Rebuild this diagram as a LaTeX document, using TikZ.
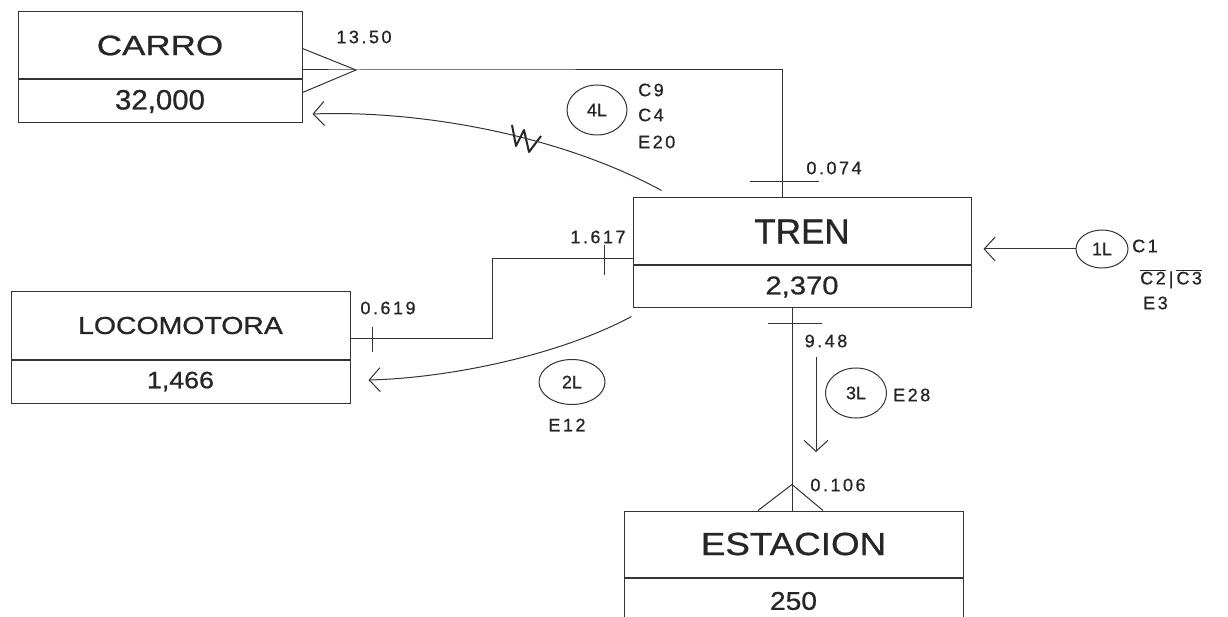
\documentclass[tikz,border=0pt]{standalone}
\usepackage{fontspec}
\setmainfont{Liberation Sans}[FakeBold=0.8]
\usetikzlibrary{arrows.meta,calc,shapes.geometric}
\newcommand{\lsp}[2]{{\addfontfeature{LetterSpace=#1}#2}}
\newcommand{\strt}[2]{{\addfontfeature{FakeStretch=#1}#2}}
\begin{document}
\begin{tikzpicture}[x=1pt,y=-1pt,
  ln/.style={line width=1pt, draw=black!80},
  boxtop/.style={ln, rectangle, minimum height=67pt, inner sep=0pt, text=black!85},
  boxbot/.style={ln, rectangle, inner sep=0pt, anchor=north, text=black!85},
  lbl/.style={font=\fontsize{18}{20}\selectfont, inner sep=0pt, text=black!85},
  rel/.style={ln, ellipse, inner sep=0pt, font=\fontsize{18}{20}\selectfont, text=black!85},
  arr/.style={ln, -{Straight Barb[length=11pt,width=24pt,line width=1pt]}},
]
\useasboundingbox (0,0) rectangle (1228,617);
\fill[white] (0,0) rectangle (1228,617);
\clip (0,0) rectangle (1228,617);

% entity boxes
\node[boxtop, minimum width=284pt, font=\fontsize{28}{30}\selectfont] (carro) at (160,45.5) {\strt{1.25}{CARRO}};
\node[boxbot, minimum width=284pt, minimum height=43pt, font=\fontsize{28}{30}\selectfont] (carrov) at (carro.south) {\strt{1.05}{32,000}};

\node[boxtop, minimum width=338pt, font=\fontsize{35}{38}\selectfont] (tren) at (802,231.5) {TREN};
\node[boxbot, minimum width=338pt, minimum height=42pt, font=\fontsize{25.6}{28}\selectfont] (trenv) at (tren.south) {\strt{1.14}{2,370}};

\node[boxtop, minimum width=339pt, font=\fontsize{24.5}{27}\selectfont] (loco) at (180.5,325.5) {\strt{1.16}{LOCOMOTORA}};
\node[boxbot, minimum width=339pt, minimum height=43pt, font=\fontsize{23.7}{26}\selectfont] (locov) at (loco.south) {\strt{1.13}{1,466}};

\node[boxtop, minimum width=339pt, minimum height=66pt, font=\fontsize{32}{35}\selectfont] (est) at (793.5,544) {\strt{1.15}{ESTACION}};
\node[boxbot, minimum width=339pt, minimum height=46pt, font=\fontsize{25.6}{28}\selectfont] (estv) at (est.south) {\strt{1.1}{250}};

% CARRO -- TREN
\coordinate (cf1) at (356,70);
\coordinate (k1) at (782,70);
\draw[ln] ($(carro.south east)+(0,-31)$) -- (cf1) -- ($(carrov.north east)+(0,13)$);
\draw[ln] (carro.east |- cf1) -- (cf1) -- (k1) -- (k1 |- tren.north);
\draw[ln] ($(k1 |- tren.north)+(-32,-16)$) -- ++(69,0);
\node[lbl] (l1350) at (364,37) {\lsp{14}{13.50}};
\node[lbl] (l0074) at (834,168) {\lsp{14}{0.074}};

% 4L
\draw[arr] ($(tren.north west)+(29,-7)$) .. controls (560,135) and (420,110) .. ($(carrov.east)+(10,12.5)$);
\draw[line width=2pt, black!85, line join=round] (512,125) -- (516,146) -- (524,130) -- (529,152) -- (541,136);
\node[rel, minimum width=60pt, minimum height=50pt] (r4) at (597,110) {4L};
\node[lbl, anchor=west] (c9) at (638,90) {\lsp{14}{C9}};
\node[lbl, anchor=west] (c4) at (638,115) {\lsp{14}{C4}};
\node[lbl, anchor=west] (e20) at (638,142) {\lsp{14}{E20}};

% LOCOMOTORA -- TREN
\coordinate (b1) at (492,339);
\coordinate (b2) at (492,259);
\draw[ln] (loco.east |- b1) -- (b1) -- (b2) -- (tren.west |- b2);
\draw[ln] ($(loco.east |- b1)+(22,-12)$) -- ++(0,25);
\draw[ln] ($(tren.west |- b2)+(-28,-14)$) -- ++(0,30);
\node[lbl] (l0619) at (388,308) {\lsp{14}{0.619}};
\node[lbl] (l1617) at (598,237) {\lsp{14}{1.617}};

% 2L
\draw[arr] ($(trenv.south west)+(-1,8)$) .. controls (560,355) and (450,378) .. ($(locov.east)+(18,-1.5)$);
\node[rel, minimum width=66pt, minimum height=45pt] (r2) at (572,382) {2L};
\node[lbl] (e12) at (567,425) {\lsp{14}{E12}};

% 1L
\node[rel, minimum width=52pt, minimum height=38pt] (r1) at (1102,249) {1L};
\draw[arr] (r1.west) -- ($(r1.west -| tren.east)+(12,0)$);
\node[lbl, anchor=west] (c1) at (1132,246) {\lsp{14}{C1}};
\node[lbl, anchor=west] (c23) at (1140,279) {$\overline{\mbox{\lsp{14}{C2}}}$\,|\,$\overline{\mbox{\lsp{14}{C3}}}$};
\node[lbl, anchor=west] (e3) at (1143,303) {\lsp{14}{E3}};

% TREN -- ESTACION
\coordinate (v1) at ($(trenv.south)+(-10,0)$);
\coordinate (v2) at (v1 |- est.north);
\coordinate (cf2) at ($(v2)+(0,-26)$);
\draw[ln] (v1) -- (v2);
\draw[ln] ($(v2)+(-34,0)$) -- (cf2) -- ($(v2)+(31,0)$);
\draw[ln] ($(v1)+(-24,15)$) -- ++(54,0);
\node[lbl] (l948) at (826,341) {\lsp{14}{9.48}};
\node[lbl] (l0106) at (838,485) {\lsp{14}{0.106}};

% 3L
\coordinate (a3s) at (816,357);
\draw[arr] (a3s) -- ++(0,95);
\node[rel, minimum width=61pt, minimum height=50pt] (r3) at (856,393) {3L};
\node[lbl, anchor=west] (e28) at (893,395) {\lsp{14}{E28}};
\end{tikzpicture}
\end{document}
